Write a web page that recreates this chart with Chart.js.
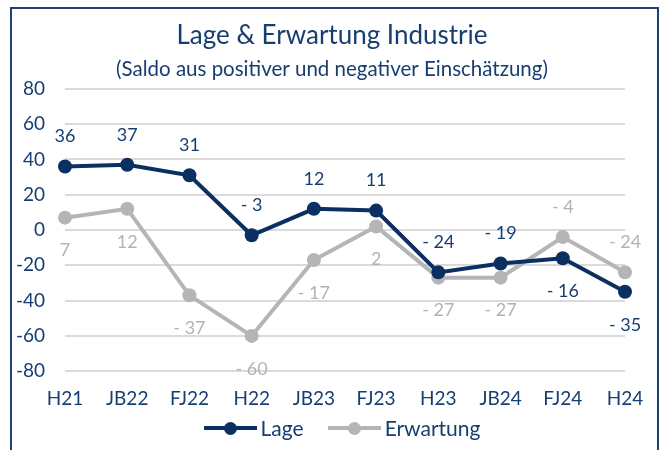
<!DOCTYPE html>
<html>
<head>
<meta charset="utf-8">
<script src="https://cdn.jsdelivr.net/npm/chart.js@4/dist/chart.umd.min.js"></script>
<style>
    body { margin: 0; background: #fff; }
    .wrap { position: relative; width: 664px; height: 450px; overflow: hidden; }
    .frame { position: absolute; left: 10px; top: 7px; width: 645px; height: 460px; border: 2px solid #1d4178; }
    canvas { position: absolute; left: 0; top: 0; }
    .legend { position: absolute; left: 20px; top: 414px; width: 644px; display: flex; justify-content: center;
              font-family: Lato, "Noto Sans", sans-serif; font-size: 21px; color: #173e71; line-height: 28px; }
    .legend .item { display: flex; align-items: center; margin: 0 12px; }
    .legend .sw { position: relative; width: 53px; height: 4px; margin-right: 4px; }
    .legend .sw::after { content: ''; position: absolute; left: 20px; top: -4.5px; width: 13px; height: 13px;
                         border-radius: 50%; background: inherit; }
</style>
</head>
<body>
<div class="wrap">
    <div class="frame"></div>
    <canvas id="chart" width="664" height="450"></canvas>
    <div class="legend" id="legend"></div>
</div>
<script>
// Values
const categories = ['H21', 'JB22', 'FJ22', 'H22', 'JB23', 'FJ23', 'H23', 'JB24', 'FJ24', 'H24'];
const lage = [36, 37, 31, -3, 12, 11, -24, -19, -16, -35];
const erwartung = [7, 12, -37, -60, -17, 2, -27, -27, -4, -24];
// where each value label sits: 'o' above the point, 'u' below
const lagePos = ['o', 'o', 'o', 'o', 'o', 'o', 'o', 'o', 'u', 'u'];
const erwartungPos = ['u', 'u', 'u', 'u', 'u', 'u', 'u', 'u', 'o', 'o'];
const yTicks = [-80, -60, -40, -20, 0, 20, 40, 60, 80];

const navy = '#0c2f61';
const textNavy = '#173e71';
const grey = '#b5b5b5';
const greyText = '#b3b3b3';
const fontFamily = 'Lato, "Noto Sans", sans-serif';

function fmt(v) {
    return v < 0 ? '- ' + Math.abs(v) : String(v);
}

// Draw the value labels next to each point
const valueLabels = {
    id: 'valueLabels',
    afterDatasetsDraw(chart) {
        const ctx = chart.ctx;
        ctx.save();
        ctx.font = '18px ' + fontFamily;
        ctx.textAlign = 'center';
        ctx.textBaseline = 'middle';
        chart.data.datasets.forEach((ds, i) => {
            const meta = chart.getDatasetMeta(i);
            meta.data.forEach((pt, j) => {
                const above = ds.labelPos[j] === 'o';
                ctx.fillStyle = ds.labelColor;
                ctx.fillText(fmt(ds.data[j]), pt.x, above ? pt.y - 30 : pt.y + 33);
            });
        });
        ctx.restore();
    }
};

const ctx = document.getElementById('chart').getContext('2d');
const chart = new Chart(ctx, {
    type: 'line',
    data: {
        labels: categories,
        datasets: [{
            label: 'Lage',
            data: lage,
            labelPos: lagePos,
            labelColor: textNavy,
            borderColor: navy,
            backgroundColor: navy,
            pointBackgroundColor: navy,
            borderWidth: 4,
            pointRadius: 7,
            pointBorderWidth: 0,
            tension: 0
        }, {
            label: 'Erwartung',
            data: erwartung,
            labelPos: erwartungPos,
            labelColor: greyText,
            borderColor: grey,
            backgroundColor: grey,
            pointBackgroundColor: grey,
            borderWidth: 4,
            pointRadius: 7,
            pointBorderWidth: 0,
            tension: 0
        }]
    },
    options: {
        responsive: false,
        animation: false,
        layout: {
            padding: { left: 0, right: 0, top: 0, bottom: 32 }
        },
        plugins: {
            title: {
                display: true,
                text: 'Lage & Erwartung Industrie',
                color: textNavy,
                font: { family: fontFamily, size: 26, weight: 'normal', lineHeight: 1.2 },
                padding: { top: 20, bottom: 6 }
            },
            subtitle: {
                display: true,
                text: '(Saldo aus positiver und negativer Einschätzung)',
                color: textNavy,
                font: { family: fontFamily, size: 20.5, weight: 'normal', lineHeight: 1.2 },
                padding: { top: 0, bottom: 7 }
            },
            legend: { display: false },
            tooltip: { enabled: false }
        },
        scales: {
            x: {
                offset: false,
                grid: { display: false },
                border: { display: false },
                ticks: {
                    color: textNavy,
                    padding: 8,
                    font: { family: fontFamily, size: 19 }
                }
            },
            y: {
                min: -80,
                max: 80,
                afterBuildTicks(scale) {
                    scale.ticks = yTicks.map(v => ({ value: v }));
                },
                afterFit(scale) {
                    scale.width = 65;
                },
                grid: { color: '#dadada', lineWidth: 2, drawTicks: false },
                border: { display: false },
                ticks: {
                    color: textNavy,
                    padding: 20,
                    font: { family: fontFamily, size: 19 }
                }
            },
            // empty right-hand axis that only reserves the right margin
            yRight: {
                position: 'right',
                afterFit(scale) {
                    scale.width = 39;
                },
                grid: { display: false, drawTicks: false },
                border: { display: false },
                ticks: { display: false }
            }
        }
    },
    plugins: [valueLabels]
});

// Legend built from the datasets
const legend = document.getElementById('legend');
chart.data.datasets.forEach(ds => {
    const item = document.createElement('div');
    item.className = 'item';
    const sw = document.createElement('span');
    sw.className = 'sw';
    sw.style.background = ds.borderColor;
    const txt = document.createElement('span');
    txt.textContent = ds.label;
    item.appendChild(sw);
    item.appendChild(txt);
    legend.appendChild(item);
});
</script>
</body>
</html>
